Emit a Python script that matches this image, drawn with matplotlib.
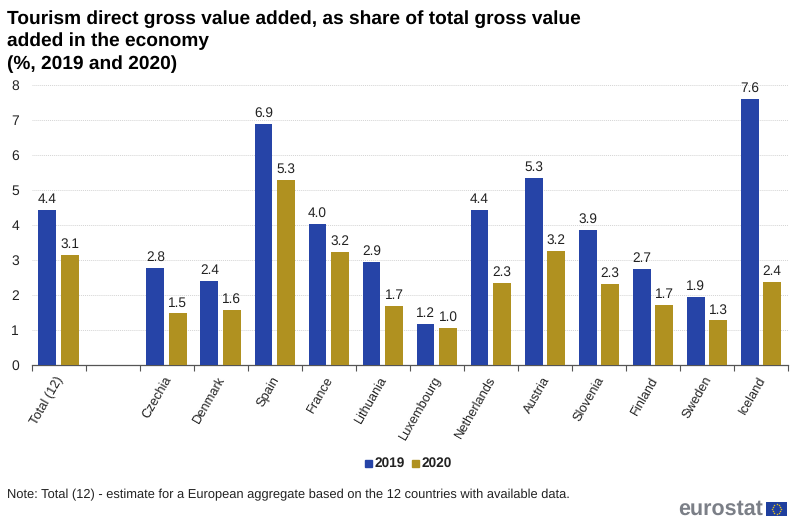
import numpy as np
import matplotlib; matplotlib.use("Agg"); import matplotlib.pyplot as plt
from matplotlib.patches import Rectangle

plt.rcParams['font.family']=['Liberation Sans','DejaVu Sans']
plt.rcParams['text.hinting']='none'

# blank entry = gap after the aggregate
countries=['Total (12)','','Czechia','Denmark','Spain','France','Lithuania','Luxembourg','Netherlands','Austria','Slovenia','Finland','Sweden','Iceland']
v2019=[4.43,np.nan,2.77,2.40,6.88,4.01,2.93,1.17,4.41,5.33,3.86,2.72,1.92,7.59]
v2020=[3.14,np.nan,1.46,1.56,5.29,3.21,1.68,1.04,2.34,3.25,2.30,1.70,1.26,2.36]
yticks=[0,1,2,3,4,5,6,7,8]
BLUE='#2644A7'; GOLD='#B09120'; GREY='#404040'

W,H=800,523
fig=plt.figure(figsize=(W/100,H/100),dpi=100)
ax=fig.add_axes([31.5/W,1-364.5/H,(788-31.5)/W,(364.5-85)/H])
x=np.arange(len(countries))
off=0.208; bw=0.33
ax.bar(x-off,v2019,bw,color=BLUE,zorder=3)
ax.bar(x+off,v2020,bw,color=GOLD,zorder=3)
for xs,vals in ((x-off,v2019),(x+off,v2020)):
    for a,b in zip(xs,vals):
        if not np.isnan(b): ax.text(a,b+0.12,f"{b:.1f}",ha='center',va='bottom',fontsize=9.8,color='#222222',zorder=4)

ax.set_xlim(-0.5,len(countries)-0.5); ax.set_ylim(0,8)
ax.set_yticks(yticks); ax.grid(axis='y',color='#d4d4d4',lw=0.7,ls=(0,(1,1)),zorder=0)
ax.set_xticks(np.arange(len(countries)+1)-0.5); ax.set_xticklabels([])
ax.tick_params(axis='x',length=4,width=0.8,color='#555555')
ax.tick_params(axis='y',length=0,pad=9,labelsize=10,labelcolor='#222222')
for s in ('top','right','left'): ax.spines[s].set_visible(False)
ax.spines['bottom'].set_color('#555555'); ax.spines['bottom'].set_linewidth(0.9)
for i,c in enumerate(countries):
    ax.annotate(c,(i,0),xytext=(-2.5,-7),textcoords='offset points',rotation=60,ha='right',va='top',rotation_mode='anchor',fontsize=9.3,color='#222222')

fig.text(7/W,1-10/H,"Tourism direct gross value added, as share of total gross value\nadded in the economy\n(%, 2019 and 2020)",
         fontsize=13.8,fontweight='bold',va='top',ha='left',linespacing=1.36,color='black')

# legend
for px,col,lab in ((365,BLUE,'2019'),(412,GOLD,'2020')):
    fig.add_artist(Rectangle((px/W,1-467/H),6.5/W,7/H,color=col,transform=fig.transFigure))
    fig.text((px+9.5)/W,1-463.5/H,lab,fontsize=9.8,fontweight='bold',va='center',ha='left',color='#222222')

fig.text(7/W,1-494.5/H,"Note: Total (12) - estimate for a European aggregate based on the 12 countries with available data.",
         fontsize=9.27,va='center',ha='left',color='#222222')

# logo
fig.text(763/W,1-509/H,"eurostat",fontsize=15.5,fontweight='bold',va='center',ha='right',color='#7b7f87')
flag=fig.add_axes([766/W,1-516/H,21/W,14/H]); flag.set_xlim(-1.5,1.5); flag.set_ylim(-1,1); flag.axis('off')
flag.add_patch(Rectangle((-1.5,-1),3,2,color='#1f3f9e'))
t=np.linspace(0,2*np.pi,12,endpoint=False)
flag.scatter(0.65*np.cos(t),0.65*np.sin(t),s=1.2,color='#e0c020',marker='o',lw=0)

fig.savefig('out.png',dpi=100)
